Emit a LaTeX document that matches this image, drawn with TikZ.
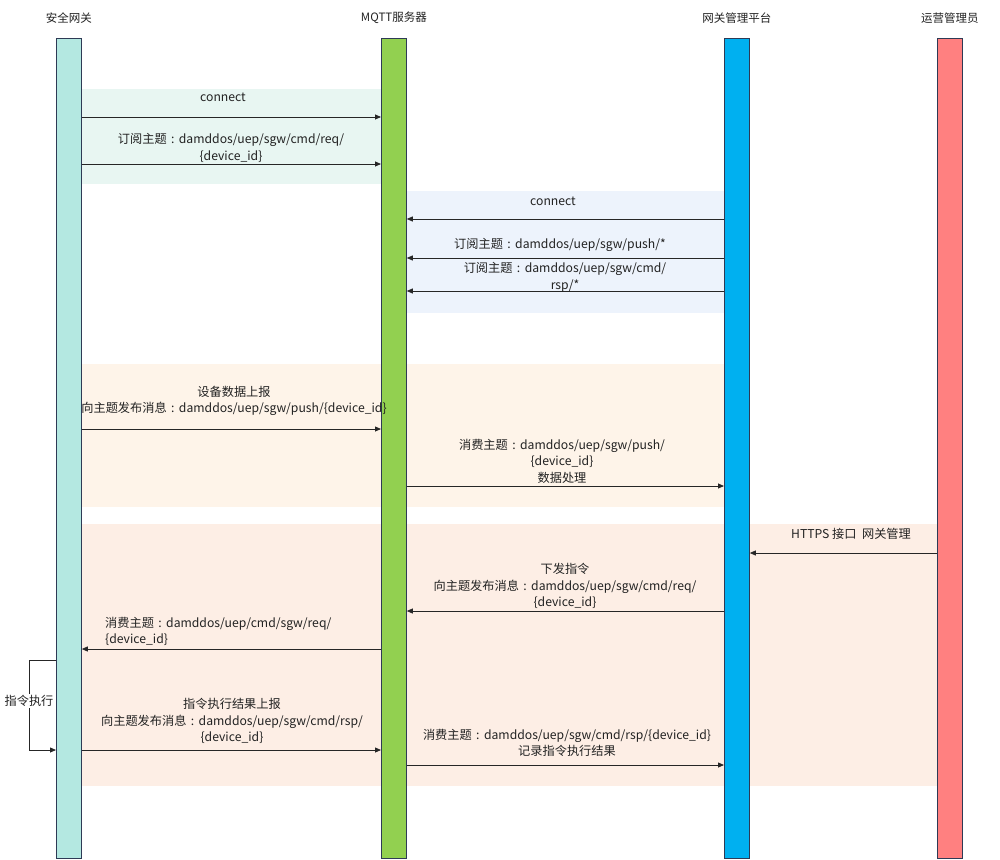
\documentclass[tikz,border=0pt]{standalone}
\usepackage{fontspec}
\setmainfont{Noto Sans CJK SC}
\usetikzlibrary{arrows.meta}
\definecolor{gwfill}{HTML}{B4E8E1}
\definecolor{mqfill}{HTML}{92D050}
\definecolor{pffill}{HTML}{00B0F0}
\definecolor{opfill}{HTML}{FF8080}
\definecolor{barline}{HTML}{2E3A55}
\definecolor{bandteal}{HTML}{E8F6F2}
\definecolor{bandblue}{HTML}{EDF3FC}
\definecolor{bandpeach}{HTML}{FEF4E9}
\definecolor{bandrose}{HTML}{FDEEE5}
\definecolor{txt}{HTML}{222222}
% full-width colon with the dots centred in its box
\newcommand\fwcolon{\makebox[1em]{:}}
\begin{document}
\begin{tikzpicture}[x=1pt,y=-1pt,
  bar/.style={draw=barline, line width=0.8pt, minimum width=25pt,
    minimum height=820pt, inner sep=0pt, anchor=north west},
  title/.style={font=\fontsize{11.5}{13}\selectfont, text=txt, inner sep=0pt},
  lbl/.style={font=\fontsize{12.2}{16.5}\selectfont, align=center, inner sep=0pt, text=txt},
  msg/.style={draw=black!85, line width=0.8pt, -{Triangle[length=6pt,width=5pt]}},
]
\useasboundingbox (0,0) rectangle (1000,859);
\fill[white] (0,0) rectangle (1000,859);

% phase backgrounds
\fill[bandteal]  (81,89)  rectangle (381,184);
\fill[bandblue]  (406,191) rectangle (724,313);
\fill[bandpeach] (81,364) rectangle (724,507);
\fill[bandrose]  (81,524) rectangle (937,786);

% lifelines
\node[bar, fill=gwfill] (gw) at (56,38) {};
\node[bar, fill=mqfill] (mq) at (381,38) {};
\node[bar, fill=pffill] (pf) at (724,38) {};
\node[bar, fill=opfill] (op) at (937,38) {};

% participant titles
\node[title] (tgw) at (gw.north |- 0,18) {安全网关};
\node[title] (tmq) at (mq.north |- 0,18) {MQTT服务器};
\node[title] (tpf) at (pf.north |- 0,18) {网关管理平台};
\node[title] (top) at (op.north |- 0,18) {运营管理员};

% gateway connects and subscribes
\draw[msg] (gw.east |- 0,117) -- (mq.west |- 0,117);
\node[lbl] (m1) at (223,97) {connect};
\draw[msg] (gw.east |- 0,164) -- (mq.west |- 0,164);
\node[lbl] (m2) at (231,148) {订阅主题\fwcolon damddos/uep/sgw/cmd/req/\\\{device\_id\}};

% platform connects and subscribes
\draw[msg] (pf.west |- 0,219) -- (mq.east |- 0,219);
\node[lbl] (m3) at (553,201) {connect};
\draw[msg] (pf.west |- 0,258) -- (mq.east |- 0,258);
\node[lbl] (m4) at (560,245) {订阅主题\fwcolon damddos/uep/sgw/push/*};
\draw[msg] (pf.west |- 0,291) -- (mq.east |- 0,291);
\node[lbl] (m5) at (565,277.5) {订阅主题\fwcolon damddos/uep/sgw/cmd/\\rsp/*};

% data reporting
\draw[msg] (gw.east |- 0,429) -- (mq.west |- 0,429);
\node[lbl] (m6) at (234,401) {设备数据上报\\向主题发布消息\fwcolon damddos/uep/sgw/push/\{device\_id\}};
\draw[msg] (mq.east |- 0,486) -- (pf.west |- 0,486);
\node[lbl] (m7) at (562,461) {消费主题\fwcolon damddos/uep/sgw/push/\\\{device\_id\}\\数据处理};

% command issuing
\draw[msg] (op.west |- 0,553) -- (pf.east |- 0,553);
\node[lbl] (m8) at (851,534) {HTTPS 接口~~网关管理};
\draw[msg] (pf.west |- 0,611) -- (mq.east |- 0,611);
\node[lbl] (m9) at (565,586) {下发指令\\向主题发布消息\fwcolon damddos/uep/sgw/cmd/req/\\\{device\_id\}};
\draw[msg] (mq.west |- 0,649) -- (gw.east |- 0,649);
\node[lbl, align=left, anchor=west] (m10) at (105,631.5) {消费主题\fwcolon damddos/uep/cmd/sgw/req/\\\{device\_id\}};

% command execution on the gateway
\draw[msg] (gw.west |- 0,660) -- ++(-27,0) |- (gw.west |- 0,750);
\node[lbl, fill=white, inner sep=1pt] (m11) at (29,701) {指令执行};

% result reporting
\draw[msg] (gw.east |- 0,750) -- (mq.west |- 0,750);
\node[lbl] (m12) at (232,721) {指令执行结果上报\\向主题发布消息\fwcolon damddos/uep/sgw/cmd/rsp/\\\{device\_id\}};
\draw[msg] (mq.east |- 0,765) -- (pf.west |- 0,765);
\node[lbl] (m13) at (567,743) {消费主题\fwcolon damddos/uep/sgw/cmd/rsp/\{device\_id\}\\记录指令执行结果};
\end{tikzpicture}
\end{document}
